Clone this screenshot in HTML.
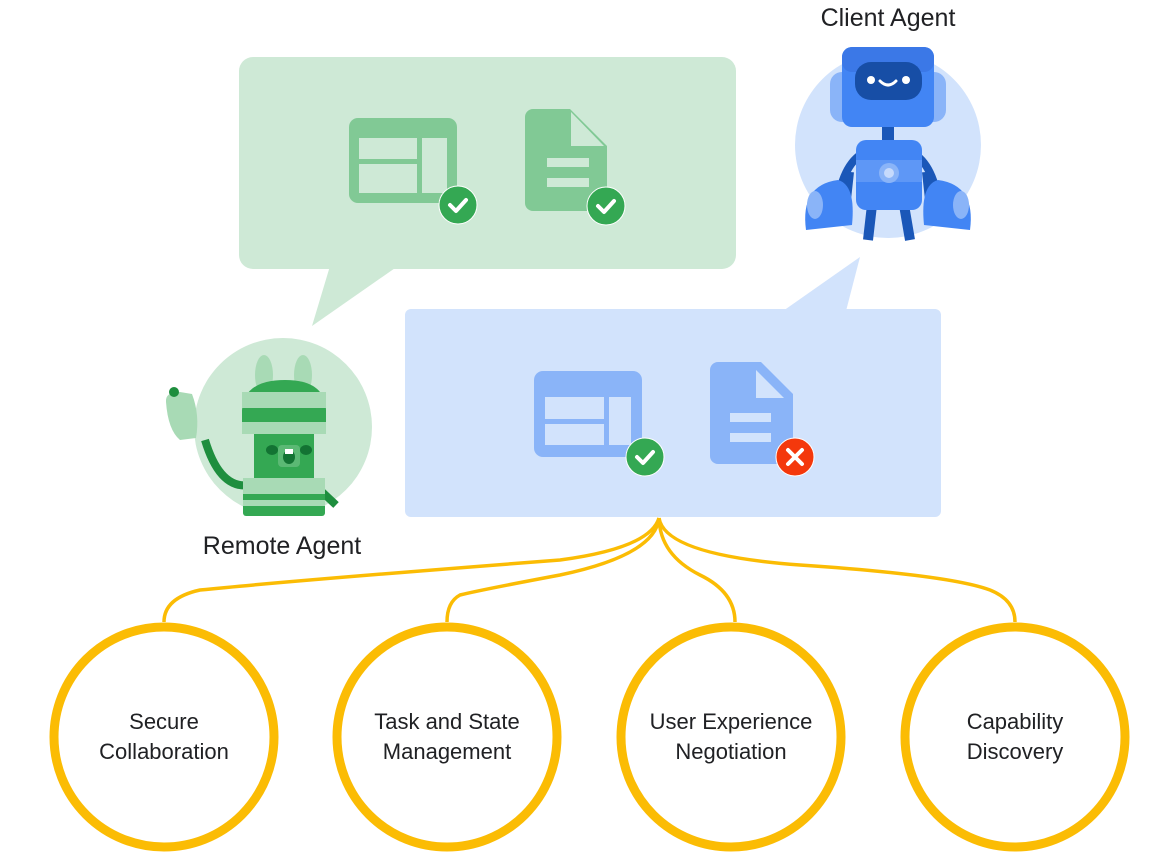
<!DOCTYPE html>
<html><head><meta charset="utf-8"><style>
html,body{margin:0;padding:0;background:#fff;}
svg{display:block;font-family:"Liberation Sans",Arial,sans-serif;}
</style></head><body>
<svg width="1170" height="859" viewBox="0 0 1170 859" xmlns="http://www.w3.org/2000/svg">
<!-- green bubble -->
<rect x="239" y="57" width="497" height="212" rx="14" fill="#cee9d6"/>
<polygon points="330,266 312,326 398,266" fill="#cee9d6"/>
<!-- green icons -->
<rect x="349" y="118" width="108" height="85" rx="9" fill="#81c995"/>
<rect x="359" y="138" width="58" height="21" fill="#cee9d6"/>
<rect x="359" y="164" width="58" height="29" fill="#cee9d6"/>
<rect x="422" y="138" width="25" height="55" fill="#cee9d6"/>
<circle cx="458" cy="205" r="19" fill="#34a853" stroke="#fff" stroke-width="1"/>
<path d="M450,205 l6,6 l10,-11" stroke="#fff" stroke-width="4" fill="none" stroke-linecap="round" stroke-linejoin="round"/>
<path d="M533,109 H570 L607,146 V203 a8,8 0 0 1 -8,8 H533 a8,8 0 0 1 -8,-8 V117 a8,8 0 0 1 8,-8z" fill="#81c995"/>
<path d="M571,112 L604,146 H571z" fill="#cee9d6"/>
<rect x="547" y="158" width="42" height="9" fill="#cee9d6"/>
<rect x="547" y="178" width="42" height="9" fill="#cee9d6"/>
<circle cx="606" cy="206" r="19" fill="#34a853" stroke="#fff" stroke-width="1"/>
<path d="M598,206 l6,6 l10,-11" stroke="#fff" stroke-width="4" fill="none" stroke-linecap="round" stroke-linejoin="round"/>

<!-- client agent -->
<text x="888" y="26" font-size="25" text-anchor="middle" fill="#202124">Client Agent</text>
<circle cx="888" cy="145" r="93" fill="#d2e3fc"/>
<rect x="830" y="72" width="30" height="50" rx="12" fill="#8ab4f8"/>
<rect x="916" y="72" width="30" height="50" rx="12" fill="#8ab4f8"/>
<path d="M845,218 L850,172 M931,218 L926,172" stroke="#1a57b8" stroke-width="8" fill="none"/>
<path d="M838,200 Q845,158 870,150 M938,200 Q931,158 906,150" stroke="#1a57b8" stroke-width="8" fill="none"/>
<rect x="882" y="120" width="12" height="25" fill="#1a57b8"/>
<path d="M872,205 L868,240 M904,205 L910,240" stroke="#1a57b8" stroke-width="10"/>
<rect x="856" y="140" width="66" height="70" rx="10" fill="#4285f4"/>
<rect x="856" y="160" width="66" height="22" fill="#5e97f6"/>
<circle cx="889" cy="173" r="10" fill="#8ab4f8"/><circle cx="889" cy="173" r="5" fill="#c6dafc"/>
<rect x="842" y="47" width="92" height="80" rx="10" fill="#4285f4"/>
<rect x="842" y="47" width="92" height="25" rx="10" fill="#3b78e7"/>
<rect x="855" y="62" width="67" height="38" rx="16" fill="#174ea6"/>
<circle cx="871" cy="80" r="4" fill="#fff"/><circle cx="906" cy="80" r="4" fill="#fff"/>
<path d="M880,81 Q888,89 896,81" stroke="#fff" stroke-width="3" fill="none" stroke-linecap="round"/>
<path d="M806,230 Q800,185 838,180 Q856,185 852,225 Z" fill="#4285f4"/>
<path d="M970,230 Q976,185 938,180 Q920,185 924,225 Z" fill="#4285f4"/>
<ellipse cx="815" cy="205" rx="8" ry="14" fill="#8ab4f8"/>
<ellipse cx="961" cy="205" rx="8" ry="14" fill="#8ab4f8"/>

<!-- blue bubble -->
<rect x="405" y="309" width="536" height="208" rx="6" fill="#d2e3fc"/>
<polygon points="783,311 860,257 846,311" fill="#d2e3fc"/>
<rect x="534" y="371" width="108" height="86" rx="9" fill="#8ab4f8"/>
<rect x="545" y="397" width="59" height="22" fill="#d2e3fc"/>
<rect x="545" y="424" width="59" height="21" fill="#d2e3fc"/>
<rect x="609" y="397" width="22" height="48" fill="#d2e3fc"/>
<circle cx="645" cy="457" r="19" fill="#34a853" stroke="#fff" stroke-width="1"/>
<path d="M637,457 l6,6 l10,-11" stroke="#fff" stroke-width="4" fill="none" stroke-linecap="round" stroke-linejoin="round"/>
<path d="M718,362 H761 L793,394 V456 a8,8 0 0 1 -8,8 H718 a8,8 0 0 1 -8,-8 V370 a8,8 0 0 1 8,-8z" fill="#8ab4f8"/>
<path d="M756,370 L784,398 H756z" fill="#d2e3fc"/>
<rect x="730" y="413" width="41" height="9" fill="#d2e3fc"/>
<rect x="730" y="433" width="41" height="9" fill="#d2e3fc"/>
<circle cx="795" cy="457" r="19" fill="#f4380c" stroke="#fff" stroke-width="1"/>
<path d="M788,450 l14,14 M802,450 l-14,14" stroke="#fff" stroke-width="4" stroke-linecap="round"/>

<!-- remote agent -->
<circle cx="283" cy="427" r="89" fill="#cee9d6"/>
<path d="M205,440 Q220,490 250,485" stroke="#1e8e3e" stroke-width="8" fill="none"/>
<path d="M320,490 L336,505" stroke="#1e8e3e" stroke-width="8"/>
<ellipse cx="264" cy="375" rx="9" ry="20" fill="#a8dab5"/>
<ellipse cx="303" cy="375" rx="9" ry="20" fill="#a8dab5"/>
<rect x="254" y="425" width="60" height="55" fill="#34a853"/>
<path d="M242,432 V410 Q244,380 285,380 Q325,380 326,410 V432 Z" fill="#34a853"/>
<rect x="242" y="392" width="84" height="16" fill="#a8dab5"/>
<rect x="242" y="422" width="84" height="12" fill="#a8dab5"/>
<rect x="278" y="445" width="22" height="22" rx="4" fill="#5bb974"/>
<ellipse cx="272" cy="450" rx="6" ry="5" fill="#137333"/>
<ellipse cx="306" cy="450" rx="6" ry="5" fill="#137333"/>
<ellipse cx="289" cy="457" rx="6" ry="7" fill="#137333"/>
<rect x="285" y="449" width="8" height="5" fill="#fff"/>
<rect x="243" y="478" width="82" height="38" rx="3" fill="#34a853"/>
<rect x="243" y="478" width="82" height="16" fill="#a8dab5"/>
<rect x="243" y="500" width="82" height="6" fill="#a8dab5"/>
<path d="M166,402 Q165,392 180,392 L192,394 Q200,415 196,438 L180,440 Q168,430 166,402Z" fill="#a8dab5"/>
<circle cx="174" cy="392" r="5" fill="#1e8e3e"/>
<text x="282" y="554" font-size="25" text-anchor="middle" fill="#202124">Remote Agent</text>

<!-- connectors -->
<g stroke="#fbbc04" stroke-width="3.5" fill="none">
<path d="M659,518 Q650,548 560,560 Q300,580 200,590 Q164,598 164,622"/>
<path d="M659,518 Q655,555 560,575 Q480,590 460,595 Q447,602 447,622"/>
<path d="M659,518 Q660,555 700,575 Q735,592 735,622"/>
<path d="M659,518 Q665,555 800,565 Q950,575 990,590 Q1015,600 1015,622"/>
</g>
<g stroke="#fbbc04" stroke-width="9" fill="#fff">
<circle cx="164" cy="737" r="110"/>
<circle cx="447" cy="737" r="110"/>
<circle cx="731" cy="737" r="110"/>
<circle cx="1015" cy="737" r="110"/>
</g>
<g font-size="22" text-anchor="middle" fill="#202124">
<text x="164" y="729">Secure</text><text x="164" y="759">Collaboration</text>
<text x="447" y="729">Task and State</text><text x="447" y="759">Management</text>
<text x="731" y="729">User Experience</text><text x="731" y="759">Negotiation</text>
<text x="1015" y="729">Capability</text><text x="1015" y="759">Discovery</text>
</g>
</svg>
</body></html>
